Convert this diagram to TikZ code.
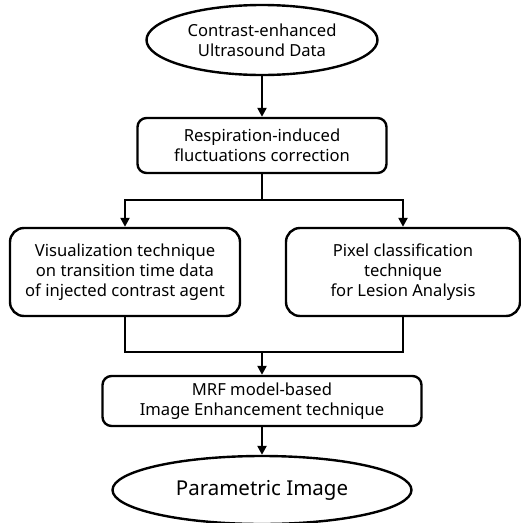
\documentclass[tikz,border=0pt]{standalone}
\usepackage{fontspec}
\setmainfont{Noto Sans}
\usetikzlibrary{shapes.geometric,arrows.meta}

\tikzset{
  arr/.style={-{Triangle[length=9pt,width=9pt]}},
  stepbox/.style={draw,rounded corners=9pt,align=center,inner sep=0pt},
  terminal/.style={draw,ellipse,align=center,inner sep=0pt},
}

\begin{document}
\begin{tikzpicture}[x=1pt,y=-1pt,line width=2.4pt,
  font=\fontsize{16.6}{20}\selectfont]
\useasboundingbox (0,0) rectangle (521,523);

\node[terminal,minimum width=231pt,minimum height=70pt] (data) at (262,40)
  {Contrast-enhanced\\Ultrasound Data};
\node[stepbox,minimum width=249pt,minimum height=55pt] (resp) at (262,145.5)
  {Respiration-induced\\fluctuations correction};

\node[stepbox,rounded corners=14pt,minimum width=230pt,minimum height=88pt] (vis) at (125,272)
  {Visualization technique\\on transition time data\\of injected contrast agent};
\node[stepbox,rounded corners=14pt,minimum width=234pt,minimum height=88pt] (pix) at (403,272)
  {Pixel classification\\technique\\for Lesion Analysis};

\node[stepbox,minimum width=319pt,minimum height=50pt] (mrf) at (262,401)
  {MRF model-based\\Image Enhancement technique};
\node[terminal,minimum width=299pt,minimum height=68pt,
  font=\fontsize{20.5}{24}\selectfont] (param) at (262,490) {Parametric Image};

\coordinate (split) at (262,200);
\coordinate (join) at (262,352);

\draw[arr] (data) -- (resp);
\draw (resp) -- (split);
\draw[arr] (split) -| (vis);
\draw[arr] (split) -| (pix);
\draw (vis) |- (join);
\draw (pix) |- (join);
\draw[arr] (join) -- (mrf);
\draw[arr] (mrf) -- (param);
\end{tikzpicture}
\end{document}
